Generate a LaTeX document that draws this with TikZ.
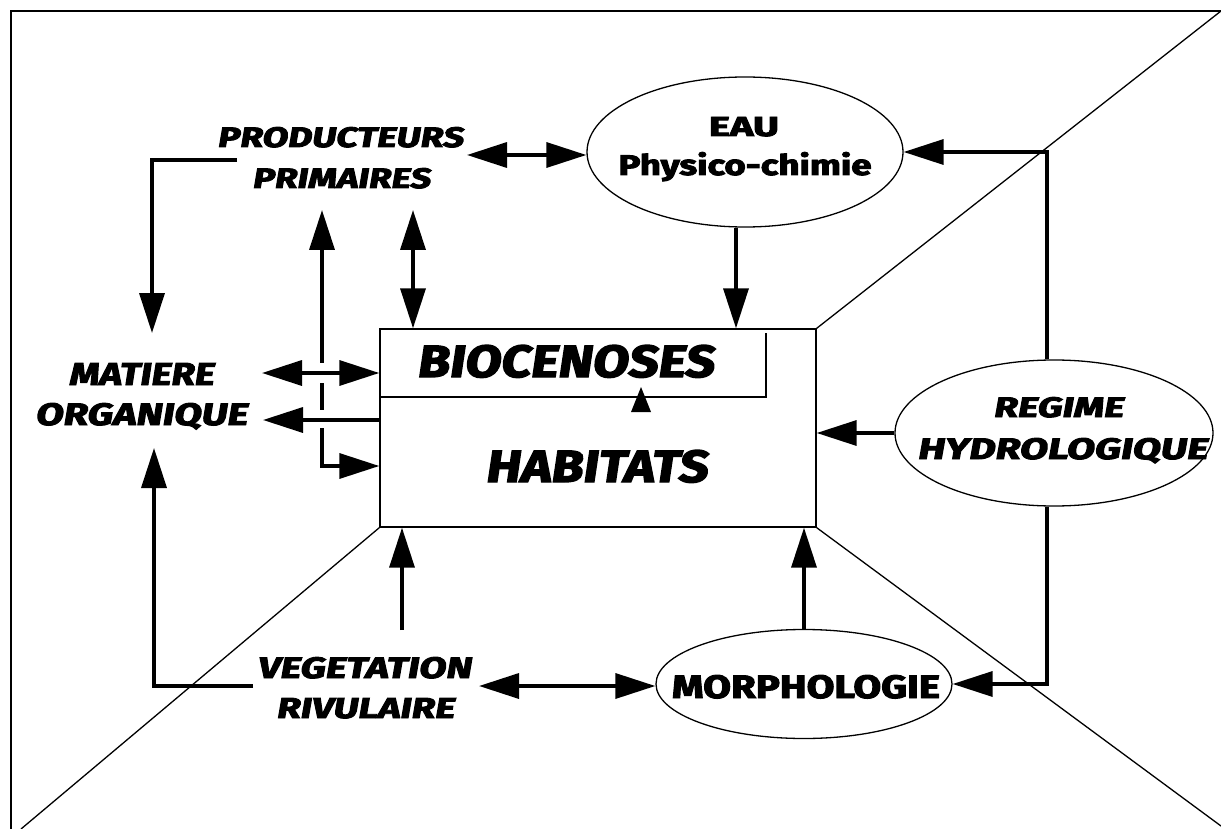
\documentclass[tikz,border=0pt]{standalone}
\usepackage{graphicx}
\usepackage{fontspec}
\setmainfont{Fira Sans}
\newfontfamily\upf{Fira Sans}[FakeBold=3]
\newfontfamily\slf{Fira Sans}[FakeSlant=0.13,FakeBold=3]
\usetikzlibrary{arrows.meta,shapes.geometric,calc}
\tikzset{
  conn/.style={line width=3.5pt},
  arr/.style={conn,-{Triangle[length=40pt,width=25pt]}},
  dbl/.style={conn,{Triangle[length=40pt,width=25pt]}-{Triangle[length=40pt,width=25pt]}},
  thin/.style={line width=1.3pt},
  oval/.style={ellipse,draw,line width=1.3pt,inner sep=0pt},
  lbl/.style={inner sep=0pt,anchor=base},
}
\newcommand{\sltxt}[3]{\resizebox{#1pt}{#2pt}{\slf\bfseries #3}}
\newcommand{\uptxt}[3]{\resizebox{#1pt}{#2pt}{\upf\bfseries #3}}
\begin{document}
\begin{tikzpicture}[x=1pt,y=-1pt]
\useasboundingbox (0,0) rectangle (1221,829);
% frame
\draw[line width=2pt] (11,829) -- (11,11) -- (1221,11);
% central box
\node[draw,line width=1.4pt,minimum width=436pt,minimum height=198pt,inner sep=0pt] (box) at (598,428) {};
% diagonals
\draw[thin] (box.north east) -- (1221,11);
\draw[thin] (box.south west) -- (21,829);
\draw[thin] (box.south east) -- (1221,826);
% separator inside box
\draw[thin] (box.west |- 0,397) -- (766,397) -- (766,333);
\fill (631,412) -- (651,412) -- (641,387) -- cycle;
% box texts
\node[lbl] (bio) at (565,377) {\sltxt{297}{32}{BIOCENOSES}};
\node[lbl] (hab) at (596,482) {\sltxt{222}{32}{HABITATS}};
% ellipses
\node[oval,minimum width=316pt,minimum height=150pt] (eau) at (745,152) {};
\node[oval,minimum width=318pt,minimum height=146pt] (regime) at (1054,433) {};
\node[oval,minimum width=296pt,minimum height=109pt] (morph) at (804,684) {};
% texts
\node[lbl] (eauA) at (744,136) {\uptxt{70}{19}{EAU}};
\node[lbl] (eauB) at (745,175) {\uptxt{253}{23}{Physico-chimie}};
\node[lbl] (regA) at (1058,417) {\sltxt{130}{20}{REGIME}};
\node[lbl] (regB) at (1062,459) {\sltxt{290}{21}{HYDROLOGIQUE}};
\node[lbl] (morA) at (806,698) {\uptxt{268}{23}{MORPHOLOGIE}};
\node[lbl] (prodA) at (340,147) {\sltxt{246}{20}{PRODUCTEURS}};
\node[lbl] (prodB) at (341,188) {\sltxt{178}{20}{PRIMAIRES}};
\node[lbl] (matA) at (141,385) {\sltxt{145}{22}{MATIERE}};
\node[lbl] (matB) at (141,425) {\sltxt{212}{22}{ORGANIQUE}};
\node[lbl] (vegA) at (364,678) {\sltxt{214}{21}{VEGETATION}};
\node[lbl] (vegB) at (365,718) {\sltxt{178}{20}{RIVULAIRE}};
% connector end points
\coordinate (pe) at (467,155);
\coordinate (pm) at (237,160);
\coordinate (mt) at (152,333);
\coordinate (pu) at (322,210);
\coordinate (pl) at (322,466);
\coordinate (pv) at (413,210);
\coordinate (ma1) at (262,373);
\coordinate (ma2) at (263,420);
\coordinate (vb) at (402,630);
\coordinate (vl) at (253,686);
\coordinate (mb) at (154,448);
\coordinate (vr) at (479,686);
\coordinate (eb) at (736,0);
\coordinate (rv) at (1047,0);
% connectors
\draw[dbl] (pe) -- (pe -| eau.west);
\draw[arr] (pm) -| (mt);
\draw[dbl] (pu) |- (pl -| box.west);
\fill[white] (317,363) rectangle (327,383);
\fill[white] (317,410) rectangle (327,428);
\draw[dbl] (pv) -- (pv |- box.north);
\draw[dbl] (ma1) -- (ma1 -| box.west);
\draw[arr] (ma2 -| box.west) -- (ma2);
\draw[arr] (vb) -- (vb |- box.south);
\draw[arr] (vl) -| (mb);
\draw[dbl] (vr) -- (vr -| morph.west);
\draw[arr] (morph.north) -- (morph.north |- box.south);
\draw[arr] (eb |- eau.south) -- (eb |- box.north);
\draw[arr] (regime.west) -- (regime.west -| box.east);
\draw[arr] (rv |- regime.north) |- (eau.east);
\draw[arr] (rv |- regime.south) |- (morph.east);
\end{tikzpicture}
\end{document}
